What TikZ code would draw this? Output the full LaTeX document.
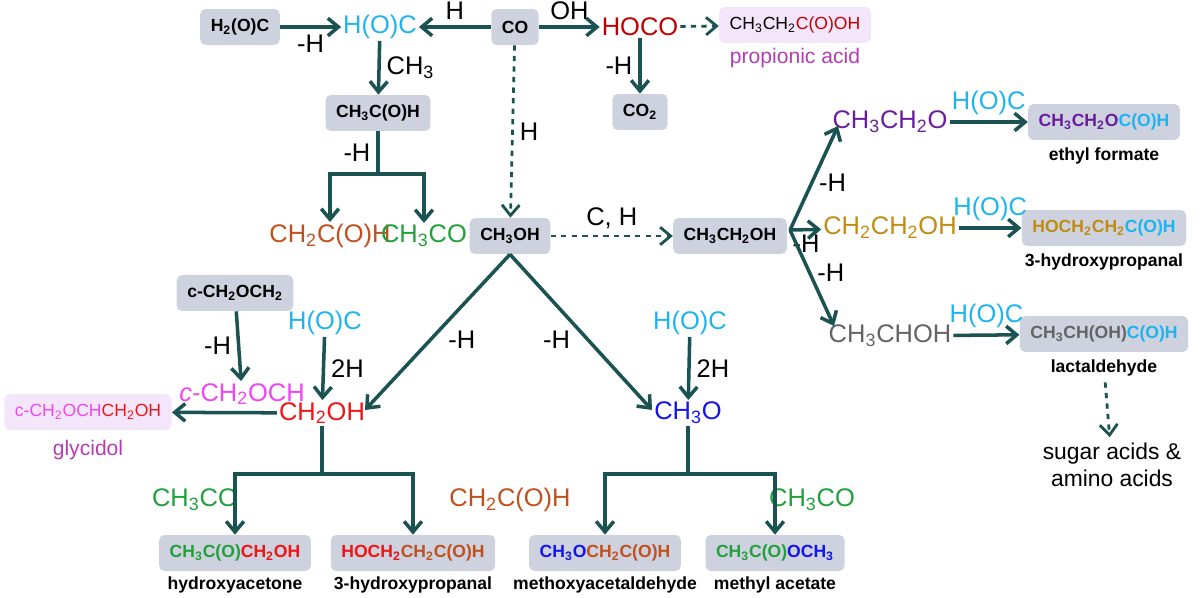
\documentclass[tikz,border=0pt]{standalone}
\usepackage{fontspec}
\setmainfont{Liberation Sans}
\usetikzlibrary{arrows.meta}
\definecolor{arr}{HTML}{1B5252}
\definecolor{boxc}{HTML}{CDD2DE}
\definecolor{lav}{HTML}{F3E6FA}
\definecolor{cy}{HTML}{1EB4F0}
\definecolor{dred}{HTML}{C00000}
\definecolor{brn}{HTML}{C0501E}
\definecolor{grn}{HTML}{22A03C}
\definecolor{prp}{HTML}{6A1E9E}
\definecolor{gld}{HTML}{C08C14}
\definecolor{gry}{HTML}{646464}
\definecolor{blu}{HTML}{1414F0}
\definecolor{rd}{HTML}{F01414}
\definecolor{mag}{HTML}{F046F0}
\definecolor{glyc}{HTML}{B43CB4}
\newcommand\sbs[1]{\textsubscript{#1}}
\tikzset{
  box/.style={fill=boxc,rounded corners=3pt,font=\bfseries,inner xsep=6pt,minimum height=0.72cm},
  lbox/.style={box,fill=lav,font=\normalfont},
  sp/.style={inner sep=1pt},
  prodname/.style={font=\bfseries},
  rx/.style={-{Straight Barb[length=6pt,width=10pt]},draw=arr,text=black,line width=2pt},
  dx/.style={rx,dashed,line width=1.6pt}
}
\begin{document}
\begin{tikzpicture}[x=0.02cm,y=-0.02cm,font=\fontsize{14.5}{16}\selectfont]
\useasboundingbox (0,0) rectangle (1200,598);
% top row
\node[box] (h2oc) at (240,27) {H\sbs{2}(O)C};
\node[sp,cy] (hoc) at (380,27) {H(O)C};
\node[box] (co) at (515,27) {CO};
\node[sp,dred] (hoco) at (640,27) {HOCO};
\node[lbox] (prop) at (795,25) {CH\sbs{3}CH\sbs{2}\textcolor{dred}{C(O)OH}};
\node[glyc,font=\fontsize{12}{14}\selectfont] (propl) at (795,58) {propionic acid};
\node[box] (co2) at (640,112) {CO\sbs{2}};
\draw[rx] (h2oc) -- node[below] {-H} (hoc);
\draw[rx] (co) -- node[above] {H} (hoc);
\draw[rx] (co) -- node[above] {OH} (hoco);
\draw[dx] (hoco) -- (prop);
\draw[rx] (hoco) -- node[left] {-H} (co2);
% acetaldehyde branch
\node[box] (ch3cho) at (378,113) {CH\sbs{3}C(O)H};
\node[sp,brn] (ch2cho) at (330,236) {CH\sbs{2}C(O)H};
\node[sp,grn] (ch3co) at (424,236) {CH\sbs{3}CO};
\draw[rx] (hoc) -- node[right] {CH\sbs{3}} (ch3cho);
\draw[draw=arr,line width=2pt] (ch3cho) -- node[left] {-H} (378,174) coordinate (j1);
\draw[rx] (j1) -| (ch2cho);
\draw[rx] (j1) -| (ch3co);
% methanol / ethanol
\node[box] (ch3oh) at (510,236) {CH\sbs{3}OH};
\node[box] (etoh) at (730,236) {CH\sbs{3}CH\sbs{2}OH};
\draw[dx] (co) -- node[right] {H} (ch3oh);
\draw[dx] (ch3oh) -- node[above] {C, H} (etoh);
% ethanol radicals
\node[sp,prp] (etO) at (890,122) {CH\sbs{3}CH\sbs{2}O};
\node[sp,gld] (ch2ch2oh) at (890,228) {CH\sbs{2}CH\sbs{2}OH};
\node[sp,gry] (ch3choh) at (890,336) {CH\sbs{3}CHOH};
\coordinate (ej) at (790,230);
\coordinate (e1) at (838,126);
\coordinate (e3) at (834,326);
\draw[rx] (ej) -- node[right,pos=0.45] {-H} (e1);
\draw[rx] (ej) -- (ch2ch2oh);
\node at (806,244) {-H};
\draw[rx] (ej) -- node[right,pos=0.45] {-H} (e3);
\node[box,text=prp] (ef) at (1104,122) {CH\sbs{3}CH\sbs{2}O\textcolor{cy}{C(O)H}};
\node[box,text=gld] (hp1) at (1104,228) {HOCH\sbs{2}CH\sbs{2}\textcolor{cy}{C(O)H}};
\node[box,text=gry] (lac) at (1104,334) {CH\sbs{3}CH(OH)\textcolor{cy}{C(O)H}};
\node[prodname] (efl) at (1104,156) {ethyl formate};
\node[prodname] (hp1l) at (1104,262) {3-hydroxypropanal};
\node[prodname] (lacl) at (1104,368) {lactaldehyde};
\foreach \a/\b in {etO/ef,ch2ch2oh/hp1,ch3choh/lac}
  \draw[rx] (\a) -- node[above,cy] {H(O)C} (\b);
\node[align=center,font=\fontsize{13}{15}\selectfont] (sug) at (1112,465) {sugar acids \&\\ amino acids};
\draw[dx] (lacl) -- (sug);
% left lower part
\node[box] (epox) at (235,293) {c-CH\sbs{2}OCH\sbs{2}};
\node[sp,mag] (epr) at (242,394) {\textit{c}-CH\sbs{2}OCH};
\node[sp,cy] (hoc2) at (325,323) {H(O)C};
\node[sp,rd] (ch2oh) at (322,413) {CH\sbs{2}OH};
\node[lbox,text=mag] (gly) at (88,412) {c-CH\sbs{2}OCH\textcolor{rd}{CH\sbs{2}OH}};
\node[glyc,font=\fontsize{12}{14}\selectfont] (glyl) at (88,450) {glycidol};
\draw[rx] (epox) -- node[left] {-H} (epr);
\draw[rx] (hoc2) -- node[right] {2H} (ch2oh);
\draw[rx] (ch2oh) -- (gly);
\node[sp,cy] (hoc3) at (690,323) {H(O)C};
\node[sp,blu] (ch3o) at (688,413) {CH\sbs{3}O};
\draw[rx] (hoc3) -- node[right] {2H} (ch3o);
\coordinate (v1) at (365,410);
\coordinate (v2) at (652,410);
\draw[rx] (ch3oh.south) -- node[right=6pt,pos=0.55] {-H} (v1);
\draw[rx] (ch3oh.south) -- node[left=6pt,pos=0.55] {-H} (v2);
% bottom products
\node[box,text=grn] (hac) at (235,553) {CH\sbs{3}C(O)\textcolor{rd}{CH\sbs{2}OH}};
\node[box,text=rd] (hp2) at (413,553) {HOCH\sbs{2}\textcolor{brn}{CH\sbs{2}C(O)H}};
\node[box,text=blu] (mxa) at (605,553) {CH\sbs{3}O\textcolor{brn}{CH\sbs{2}C(O)H}};
\node[box,text=grn] (mac) at (775,553) {CH\sbs{3}C(O)\textcolor{blu}{OCH\sbs{3}}};
\node[prodname] (hacl) at (235,585) {hydroxyacetone};
\node[prodname] (hp2l) at (413,585) {3-hydroxypropanal};
\node[prodname] (mxal) at (605,585) {methoxyacetaldehyde};
\node[prodname] (macl) at (775,585) {methyl acetate};
\node[sp,grn] (l1) at (195,500) {CH\sbs{3}CO};
\node[sp,brn] (l2) at (510,500) {CH\sbs{2}C(O)H};
\node[sp,grn] (l3) at (812,500) {CH\sbs{3}CO};
\draw[draw=arr,line width=2pt] (ch2oh) -- (322,474) coordinate (j2);
\draw[rx] (j2) -| (hac);
\draw[rx] (j2) -| (hp2);
\draw[draw=arr,line width=2pt] (ch3o) -- (688,474) coordinate (j3);
\draw[rx] (j3) -| (mxa);
\draw[rx] (j3) -| (mac);
\end{tikzpicture}
\end{document}
